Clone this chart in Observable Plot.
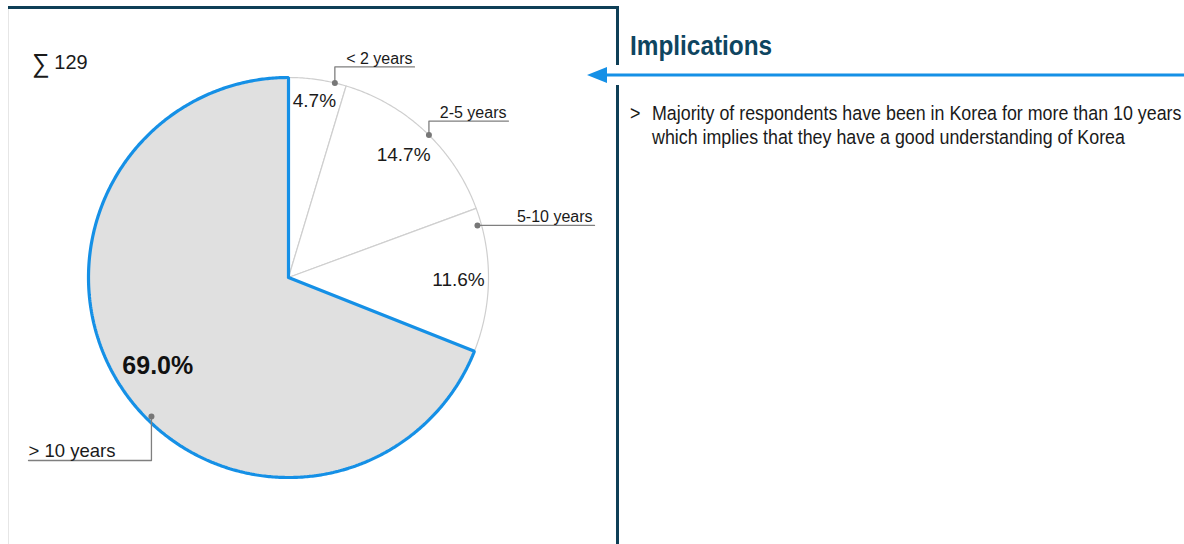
<!DOCTYPE html>
<html><head><meta charset="utf-8">
<script src="https://cdn.jsdelivr.net/npm/d3@7"></script>
<script src="https://cdn.jsdelivr.net/npm/@observablehq/plot@0.6"></script>
<style>
body{margin:0;background:#fff;width:1184px;height:544px;overflow:hidden;position:relative;font-family:'Liberation Sans',Arial,sans-serif;color:#1a1a1a;}
#chart{position:absolute;left:0;top:0;}
.abs{position:absolute;white-space:nowrap;}
#frameTop{left:8px;top:6px;width:611px;height:3px;background:#0e3f57;}
#frameV1{left:616px;top:6px;width:3px;height:59px;background:#0e3f57;}
#frameV2{left:616px;top:85px;width:3px;height:459px;background:#0e3f57;}
#frameLeft{left:8px;top:9px;width:1px;height:535px;background:#e6e6e6;}
#sum{left:32px;top:49px;font-size:21px;line-height:26px;transform:scaleX(0.95);transform-origin:0 0;}
#sum .sig{font-size:26px;vertical-align:-3px;margin-right:5px;}
#impl{left:630px;top:31px;font-size:28px;line-height:30px;font-weight:bold;color:#0e4560;transform:scaleX(0.87);transform-origin:0 0;}
#bullet{left:630px;top:101px;font-size:20.5px;line-height:24px;transform:scaleX(0.87);transform-origin:0 0;}
#btext{left:652px;top:101px;font-size:20.5px;line-height:24px;transform:scaleX(0.87);transform-origin:0 0;}
#arrow{left:580px;top:62px;}
</style></head><body>
<div id="chart"></div>
<div class="abs" id="frameLeft"></div>
<div class="abs" id="frameTop"></div>
<div class="abs" id="frameV1"></div>
<div class="abs" id="frameV2"></div>
<div class="abs" id="sum"><span class="sig">∑</span>129</div>
<div class="abs" id="impl">Implications</div>
<svg class="abs" id="arrow" width="604" height="26"><line x1="22" y1="13" x2="604" y2="13" stroke="#1590e6" stroke-width="3"/><path d="M7,13 L27,5 L27,21 Z" fill="#1590e6"/></svg>
<div class="abs" id="bullet">&gt;</div>
<div class="abs" id="btext">Majority of respondents have been in Korea for more than 10 years<br>which implies that they have a good understanding of Korea</div>
<script>
// ---- data ----
const categories = ["< 2 years", "2-5 years", "5-10 years", "> 10 years"];
const counts = [6, 19, 15, 89];
const percentLabels = ["4.7%", "14.7%", "11.6%", "69.0%"];
const total = 129;

// ---- layout (not data) ----
const labelRadius = [0.89, 0.84, 0.85, 0.79];
const leaderAngle = [13.4, 44.6, 74.6, 224.6];
const leaderRadius = [1, 1, 0.98, 0.976];
const leaderRise = [0.08, 0.07, 0, -0.22];
const leaderEndX = [0.63, 1.10, 1.53, -1.30];

const rad = Math.PI / 180;
let cum = 0;
const slices = categories.map((c, i) => {
  const a0 = cum / total * 360;
  cum += counts[i];
  const a1 = cum / total * 360;
  return {cat: c, i, a0, a1, mid: (a0 + a1) / 2, label: percentLabels[i]};
});
const slicePts = [];
for (const s of slices) {
  slicePts.push({cat: s.cat, i: s.i, x: 0, y: 0});
  const n = Math.max(2, Math.ceil((s.a1 - s.a0) / 0.5));
  for (let k = 0; k <= n; k++) {
    const a = (s.a0 + (s.a1 - s.a0) * k / n) * rad;
    slicePts.push({cat: s.cat, i: s.i, x: Math.sin(a), y: Math.cos(a)});
  }
  slicePts.push({cat: s.cat, i: s.i, x: 0, y: 0});
}
const leaders = slices.map(s => {
  const a = leaderAngle[s.i] * rad, r = leaderRadius[s.i];
  const x = r * Math.sin(a), y = r * Math.cos(a);
  return {cat: s.cat, i: s.i, x, y, ey: y + leaderRise[s.i], ex: leaderEndX[s.i]};
});
const leaderPts = leaders.flatMap(d => [
  {cat: d.cat, x: d.x, y: d.y},
  {cat: d.cat, x: d.x, y: d.ey},
  {cat: d.cat, x: d.ex, y: d.ey}
]);
const pctPos = slices.map(s => ({...s, x: labelRadius[s.i] * Math.sin(s.mid * rad), y: labelRadius[s.i] * Math.cos(s.mid * rad)}));

const font = "'Liberation Sans',Arial,sans-serif";
const chart = Plot.plot({
  width: 1184, height: 544, margin: 0,
  x: {domain: [-1.44, 4.48], range: [0, 1184], axis: null},
  y: {domain: [-1.335, 1.385], range: [544, 0], axis: null},
  style: {background: "transparent", fontFamily: font, color: "#1a1a1a"},
  marks: [
    Plot.line(slicePts.filter(d => d.i < 3), {x: "x", y: "y", z: "cat", fill: "white", stroke: "#cfcfcf", strokeWidth: 1.2}),
    Plot.line(slicePts.filter(d => d.i === 3), {x: "x", y: "y", fill: "#e0e0e0", stroke: "#1590e6", strokeWidth: 3.2, strokeLinejoin: "miter"}),
    Plot.line(leaderPts, {x: "x", y: "y", z: "cat", stroke: "#7f7f7f", strokeWidth: 1.3}),
    Plot.dot(leaders, {x: "x", y: "y", r: 3, fill: "#777777", stroke: null}),
    Plot.text(leaders.filter(d => d.ex > 0), {x: "ex", y: "ey", text: "cat", textAnchor: "end", lineAnchor: "bottom", dx: -2, dy: -3, fontSize: 16, fill: "#1a1a1a"}),
    Plot.text(leaders.filter(d => d.ex < 0), {x: "ex", y: "ey", text: "cat", textAnchor: "start", lineAnchor: "bottom", dy: -3, fontSize: 18.5, fill: "#1a1a1a"}),
    Plot.text(pctPos.filter(d => d.i < 3), {x: "x", y: "y", text: "label", fontSize: 19, fill: "#1a1a1a"}),
    Plot.text(pctPos.filter(d => d.i === 3), {x: "x", y: "y", text: "label", fontSize: 25, fontWeight: "bold", fill: "#111"})
  ]
});
document.getElementById("chart").appendChild(chart);
</script>
</body></html>
